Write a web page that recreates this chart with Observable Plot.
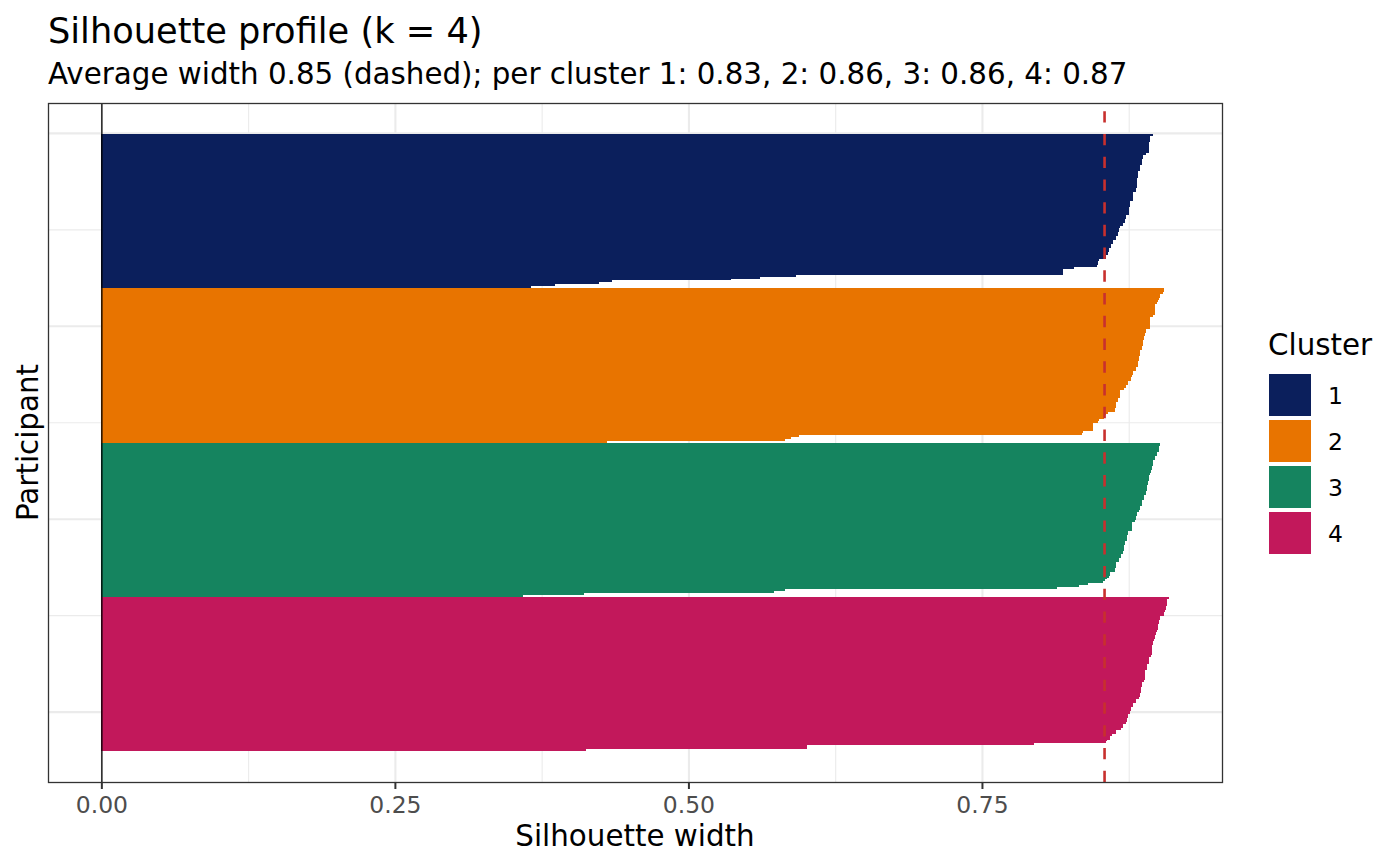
<!DOCTYPE html>
<html>
<head>
<meta charset="utf-8">
<script src="https://cdn.jsdelivr.net/npm/d3@7"></script>
<script src="https://cdn.jsdelivr.net/npm/@observablehq/plot@0.6"></script>
<style>
  html, body { margin: 0; padding: 0; background: #ffffff; }
  #wrap { position: relative; width: 1400px; height: 866px; overflow: hidden; }
  #wrap > svg { position: absolute; left: 0; top: 0; }
</style>
</head>
<body>
<div id="wrap"></div>
<script>
// ---- data ----
const clusters = ["1", "2", "3", "4"];
const palette = ["#0b1f5c", "#e87400", "#15845f", "#c2185b"];

const cluster1 = [0.896, 0.893, 0.893, 0.893, 0.892, 0.892, 0.892, 0.892, 0.892, 0.892,
  0.890, 0.887, 0.887, 0.8865, 0.8865, 0.8865, 0.885, 0.885, 0.885, 0.883,
  0.883, 0.883, 0.8825, 0.882, 0.882, 0.882, 0.882, 0.882, 0.881, 0.881,
  0.879, 0.879, 0.879, 0.879, 0.879, 0.876, 0.876, 0.876, 0.875, 0.875,
  0.875, 0.875, 0.873, 0.873, 0.872, 0.872, 0.870, 0.870, 0.868, 0.867,
  0.867, 0.866, 0.866, 0.864, 0.864, 0.862, 0.862, 0.860, 0.860, 0.858,
  0.858, 0.857, 0.857, 0.856, 0.856, 0.850, 0.849, 0.849, 0.848, 0.828,
  0.819, 0.819, 0.819, 0.592, 0.561, 0.536, 0.435, 0.424, 0.386, 0.366];

const cluster2 = [0.905, 0.905, 0.904, 0.902, 0.902, 0.901, 0.900, 0.899, 0.897, 0.897,
  0.897, 0.897, 0.897, 0.897, 0.896, 0.893, 0.893, 0.893, 0.893, 0.893,
  0.893, 0.890, 0.890, 0.889, 0.889, 0.888, 0.888, 0.887, 0.887, 0.887,
  0.886, 0.886, 0.885, 0.885, 0.885, 0.884, 0.884, 0.884, 0.8825, 0.8825,
  0.8825, 0.881, 0.881, 0.879, 0.879, 0.878, 0.877, 0.877, 0.874, 0.874,
  0.873, 0.873, 0.871, 0.868, 0.868, 0.8675, 0.8675, 0.8655, 0.8655, 0.864,
  0.864, 0.864, 0.863, 0.863, 0.8575, 0.856, 0.854, 0.854, 0.850, 0.849,
  0.845, 0.845, 0.845, 0.845, 0.836, 0.8355, 0.594, 0.587, 0.582, 0.431];

const cluster3 = [0.902, 0.902, 0.901, 0.901, 0.901, 0.8995, 0.8987, 0.897, 0.897, 0.896,
  0.896, 0.8956, 0.895, 0.895, 0.894, 0.894, 0.8933, 0.8924, 0.8924, 0.8924,
  0.8916, 0.8916, 0.8904, 0.8904, 0.8904, 0.8893, 0.8893, 0.8884, 0.8876, 0.8876,
  0.8859, 0.8859, 0.8859, 0.8848, 0.8848, 0.8836, 0.8819, 0.8819, 0.881, 0.881,
  0.880, 0.8782, 0.8782, 0.878, 0.878, 0.878, 0.8745, 0.8745, 0.8734, 0.8734,
  0.8734, 0.8722, 0.8722, 0.8714, 0.8714, 0.8714, 0.870, 0.870, 0.8682, 0.8682,
  0.8671, 0.8671, 0.8643, 0.8643, 0.8643, 0.8629, 0.8629, 0.8592, 0.8592, 0.8581,
  0.8564, 0.8552, 0.8535, 0.840, 0.833, 0.814, 0.582, 0.573, 0.411, 0.359];

const cluster4 = [0.909, 0.908, 0.908, 0.9075, 0.9075, 0.9066, 0.9066, 0.9058, 0.905, 0.905,
  0.902, 0.902, 0.901, 0.901, 0.900, 0.900, 0.900, 0.899, 0.898, 0.898,
  0.8975, 0.8975, 0.8967, 0.8958, 0.8958, 0.8947, 0.8947, 0.8947, 0.8947, 0.8947,
  0.894, 0.8924, 0.8924, 0.8924, 0.8924, 0.8907, 0.8907, 0.8907, 0.889, 0.889,
  0.889, 0.889, 0.889, 0.888, 0.8865, 0.8865, 0.8865, 0.8857, 0.8857, 0.8857,
  0.8845, 0.8845, 0.8834, 0.881, 0.881, 0.8788, 0.8788, 0.8768, 0.8768, 0.876,
  0.876, 0.8748, 0.8748, 0.8737, 0.8737, 0.8726, 0.8703, 0.8703, 0.8686, 0.8641,
  0.8641, 0.8604, 0.859, 0.859, 0.8567, 0.8555, 0.794, 0.601, 0.601, 0.413];

const avgWidth = 0.854;
const xMajor = [0, 0.25, 0.5, 0.75];
const xMinor = [0.125, 0.375, 0.625, 0.875];
const yMajor = [0, 100, 200, 300];
const yMinor = [50, 150, 250];

const titleText = "Silhouette profile (k = 4)";
const subtitleText = "Average width 0.85 (dashed); per cluster 1: 0.83, 2: 0.86, 3: 0.86, 4: 0.87";
const xLabel = "Silhouette width";
const yLabel = "Participant";
const legendTitle = "Cluster";

// ---- build table ----
const rows = [];
let offset = 0;
[cluster1, cluster2, cluster3, cluster4].forEach((vals, c) => {
  vals.forEach((w, i) => rows.push({cluster: clusters[c], p: offset + i + 1, w}));
  offset += vals.length;
});
const n = rows.length;
const wMax = d3.max(rows, d => d.w);
const xDom = [-0.05 * wMax, wMax * 1.05];
const yDom = [0.5 - 0.05 * n, n + 0.5 + 0.05 * n];

const W = 1400, H = 866;
const chart = Plot.plot({
  width: W, height: H,
  marginTop: 103, marginBottom: 84, marginLeft: 48, marginRight: 178,
  style: {fontFamily: "DejaVu Sans", color: "#4d4d4d", background: "transparent", overflow: "visible"},
  x: {domain: xDom},
  y: {domain: yDom, reverse: true, axis: null},
  color: {domain: clusters, range: palette},
  marks: [
    Plot.ruleX(xMinor, {stroke: "#ebebeb", strokeWidth: 1.1}),
    Plot.ruleY(yMinor, {stroke: "#ebebeb", strokeWidth: 1.1}),
    Plot.ruleX(xMajor, {stroke: "#ebebeb", strokeWidth: 2.1}),
    Plot.ruleY(yMajor, {stroke: "#ebebeb", strokeWidth: 2.1}),
    Plot.rect(rows, {x1: 0, x2: "w", y1: d => d.p - 0.5, y2: d => d.p + 0.5, fill: "cluster", shapeRendering: "crispEdges"}),
    Plot.ruleX([0], {stroke: "#000000", strokeWidth: 1.3}),
    Plot.ruleX([avgWidth], {y1: yDom[1], y2: yDom[0], stroke: "#c8302e", strokeWidth: 2.6, strokeDasharray: "11.37,11.37"}),
    Plot.frame({stroke: "#333333", strokeWidth: 1.3}),
    Plot.axisX(xMajor, {tickSize: 7, tickPadding: 7, stroke: "#333333", strokeWidth: 2, tickFormat: d3.format(".2f"), fontSize: 23.47, label: null})
  ]
});
const wrap = document.getElementById("wrap");
wrap.appendChild(chart);

// ---- overlay: titles and legend ----
const ov = d3.select(wrap).append("svg")
  .attr("width", W).attr("height", H)
  .style("font-family", "DejaVu Sans")
  .style("pointer-events", "none");

ov.append("text").attr("x", 48).attr("y", 42.5).attr("font-size", 35.2).attr("fill", "#000").text(titleText);
ov.append("text").attr("x", 48).attr("y", 84).attr("font-size", 29.33).attr("fill", "#000").text(subtitleText);
ov.append("text").attr("x", 635).attr("y", 846).attr("font-size", 29.33).attr("text-anchor", "middle").attr("fill", "#000").text(xLabel);
ov.append("text").attr("transform", "translate(37.5,442.5) rotate(-90)").attr("font-size", 29.33).attr("text-anchor", "middle").attr("fill", "#000").text(yLabel);

ov.append("text").attr("x", 1268).attr("y", 355).attr("font-size", 29.33).attr("fill", "#000").text(legendTitle);
clusters.forEach((c, i) => {
  ov.append("rect").attr("x", 1269).attr("y", 374 + 46 * i).attr("width", 42).attr("height", 42).attr("fill", palette[i]);
  ov.append("text").attr("x", 1328).attr("y", 404 + 46 * i).attr("font-size", 23.47).attr("fill", "#000").text(c);
});
</script>
</body>
</html>
